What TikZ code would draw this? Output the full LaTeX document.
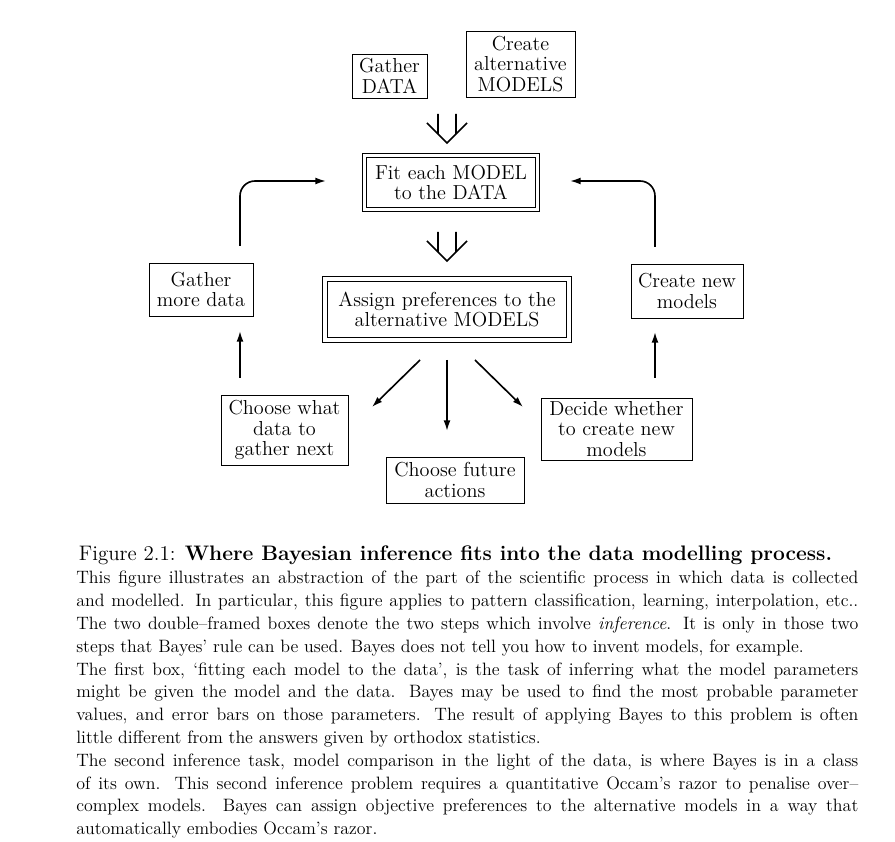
\documentclass[tikz,border=0pt]{standalone}
\usetikzlibrary{arrows.meta}

\newcommand{\px}{0.6146pt}
\newcommand{\boxfont}{\fontsize{12.44}{12.5}\selectfont}
\newcommand{\capfont}{\fontsize{11}{14}\selectfont}
\newcommand{\titlefont}{\fontsize{12.9}{14}\selectfont}

\tikzset{
	box/.style={draw, line width=0.6pt, align=center, inner sep=0pt, font=\boxfont},
	dblbox/.style={box, double, double distance=2.4pt},
	flow/.style={line width=1pt, -{Latex[length=6.5pt,width=4.2pt]}},
	twin/.pic={
		\draw[line width=1pt] (-9,-29) -- (-9,-9) (9,-29) -- (9,-9)
			(-20,-20) -- (0,0) -- (20,-20);
	}
}

\begin{document}
\begin{tikzpicture}[x=\px, y=-\px]
		\useasboundingbox (0,0) rectangle (895,842);
		
		%top row
		\node[box, minimum width=75*\px, minimum height=44*\px] (gdata) at (389.5,76) {Gather\\DATA};
		\node[box, minimum width=109*\px, minimum height=66*\px] (cmod) at (520.5,64) {Create\\alternative\\MODELS};
		
		%the two inference steps
		\node[dblbox, minimum width=173*\px, minimum height=54*\px] (fit) at (451,182.5) {Fit each MODEL\\to the DATA};
		\node[dblbox, minimum width=244*\px, minimum height=61*\px] (assign) at (447,309.5) {Assign preferences to the\\alternative MODELS};
		
		%side boxes
		\node[box, minimum width=104*\px, minimum height=53*\px] (gmore) at (201,289.5) {Gather\\more data};
		\node[box, minimum width=112*\px, minimum height=54*\px] (cnew) at (687,291) {Create new\\models};
		
		%bottom row
		\node[box, minimum width=127*\px, minimum height=70*\px] (cwhat) at (284.5,430) {Choose what\\data to\\gather next};
		\node[box, minimum width=138*\px, minimum height=46*\px] (cfut) at (455,480) {Choose future\\actions};
		\node[box, minimum width=151*\px, minimum height=62*\px] (decide) at (616.5,429) {Decide whether\\to create new\\models};
		
		%double arrows
		\coordinate (in1) at (447,143);
		\coordinate (in2) at (447,261);
		\pic at (in1) {twin};
		\pic at (in2) {twin};
		
		%loops back to the fit
		\coordinate (gm-top) at (240,246);
		\coordinate (gm-bot) at (240,331);
		\coordinate (cw-top) at (240,378);
		\coordinate (fit-l) at (326,181);
		\coordinate (cn-top) at (655,247);
		\coordinate (cn-bot) at (655,332);
		\coordinate (de-top) at (655,378);
		\coordinate (fit-r) at (570,181);
		\draw[flow, rounded corners=15*\px] (gm-top) |- (fit-l);
		\draw[flow, rounded corners=15*\px] (cn-top) |- (fit-r);
		\draw[flow] (cw-top) -- (gm-bot);
		\draw[flow] (de-top) -- (cn-bot);
		
		%out of the assign box
		\coordinate (as-l) at (420,360);
		\coordinate (as-m) at (447,360);
		\coordinate (as-r) at (475,360);
		\coordinate (cw-in) at (372,407);
		\coordinate (cf-in) at (447,431);
		\coordinate (de-in) at (523,407);
		\draw[flow] (as-l) -- (cw-in);
		\draw[flow] (as-m) -- (cf-in);
		\draw[flow] (as-r) -- (de-in);
		
		%caption
		\node[anchor=base, inner sep=0pt, font=\titlefont] (title) at (455.5,561)
			{Figure 2.1: \textbf{Where Bayesian inference fits into the data modelling process.}};
		\node[anchor=base west, inner sep=0pt, text width=782*\px, align=justify, font=\capfont] (capt) at (76,584)
			{This figure illustrates an abstraction of the part of the scientific process in which data is collected\linebreak
			and modelled. In particular, this figure applies to pattern classification, learning, interpolation, etc..\linebreak
			The two double--framed boxes denote the two steps which involve \emph{inference}. It is only in those two\linebreak
			steps that Bayes' rule can be used. Bayes does not tell you how to invent models, for example.\par
			The first box, `fitting each model to the data', is the task of inferring what the model parameters\linebreak
			might be given the model and the data. Bayes may be used to find the most probable parameter\linebreak
			values, and error bars on those parameters. The result of applying Bayes to this problem is often\linebreak
			little different from the answers given by orthodox statistics.\par
			The second inference task, model comparison in the light of the data, is where Bayes is in a class\linebreak
			of its own. This second inference problem requires a quantitative Occam's razor to penalise over--\linebreak
			complex models. Bayes can assign objective preferences to the alternative models in a way that\linebreak
			automatically embodies Occam's razor.};
\end{tikzpicture}
\end{document}
